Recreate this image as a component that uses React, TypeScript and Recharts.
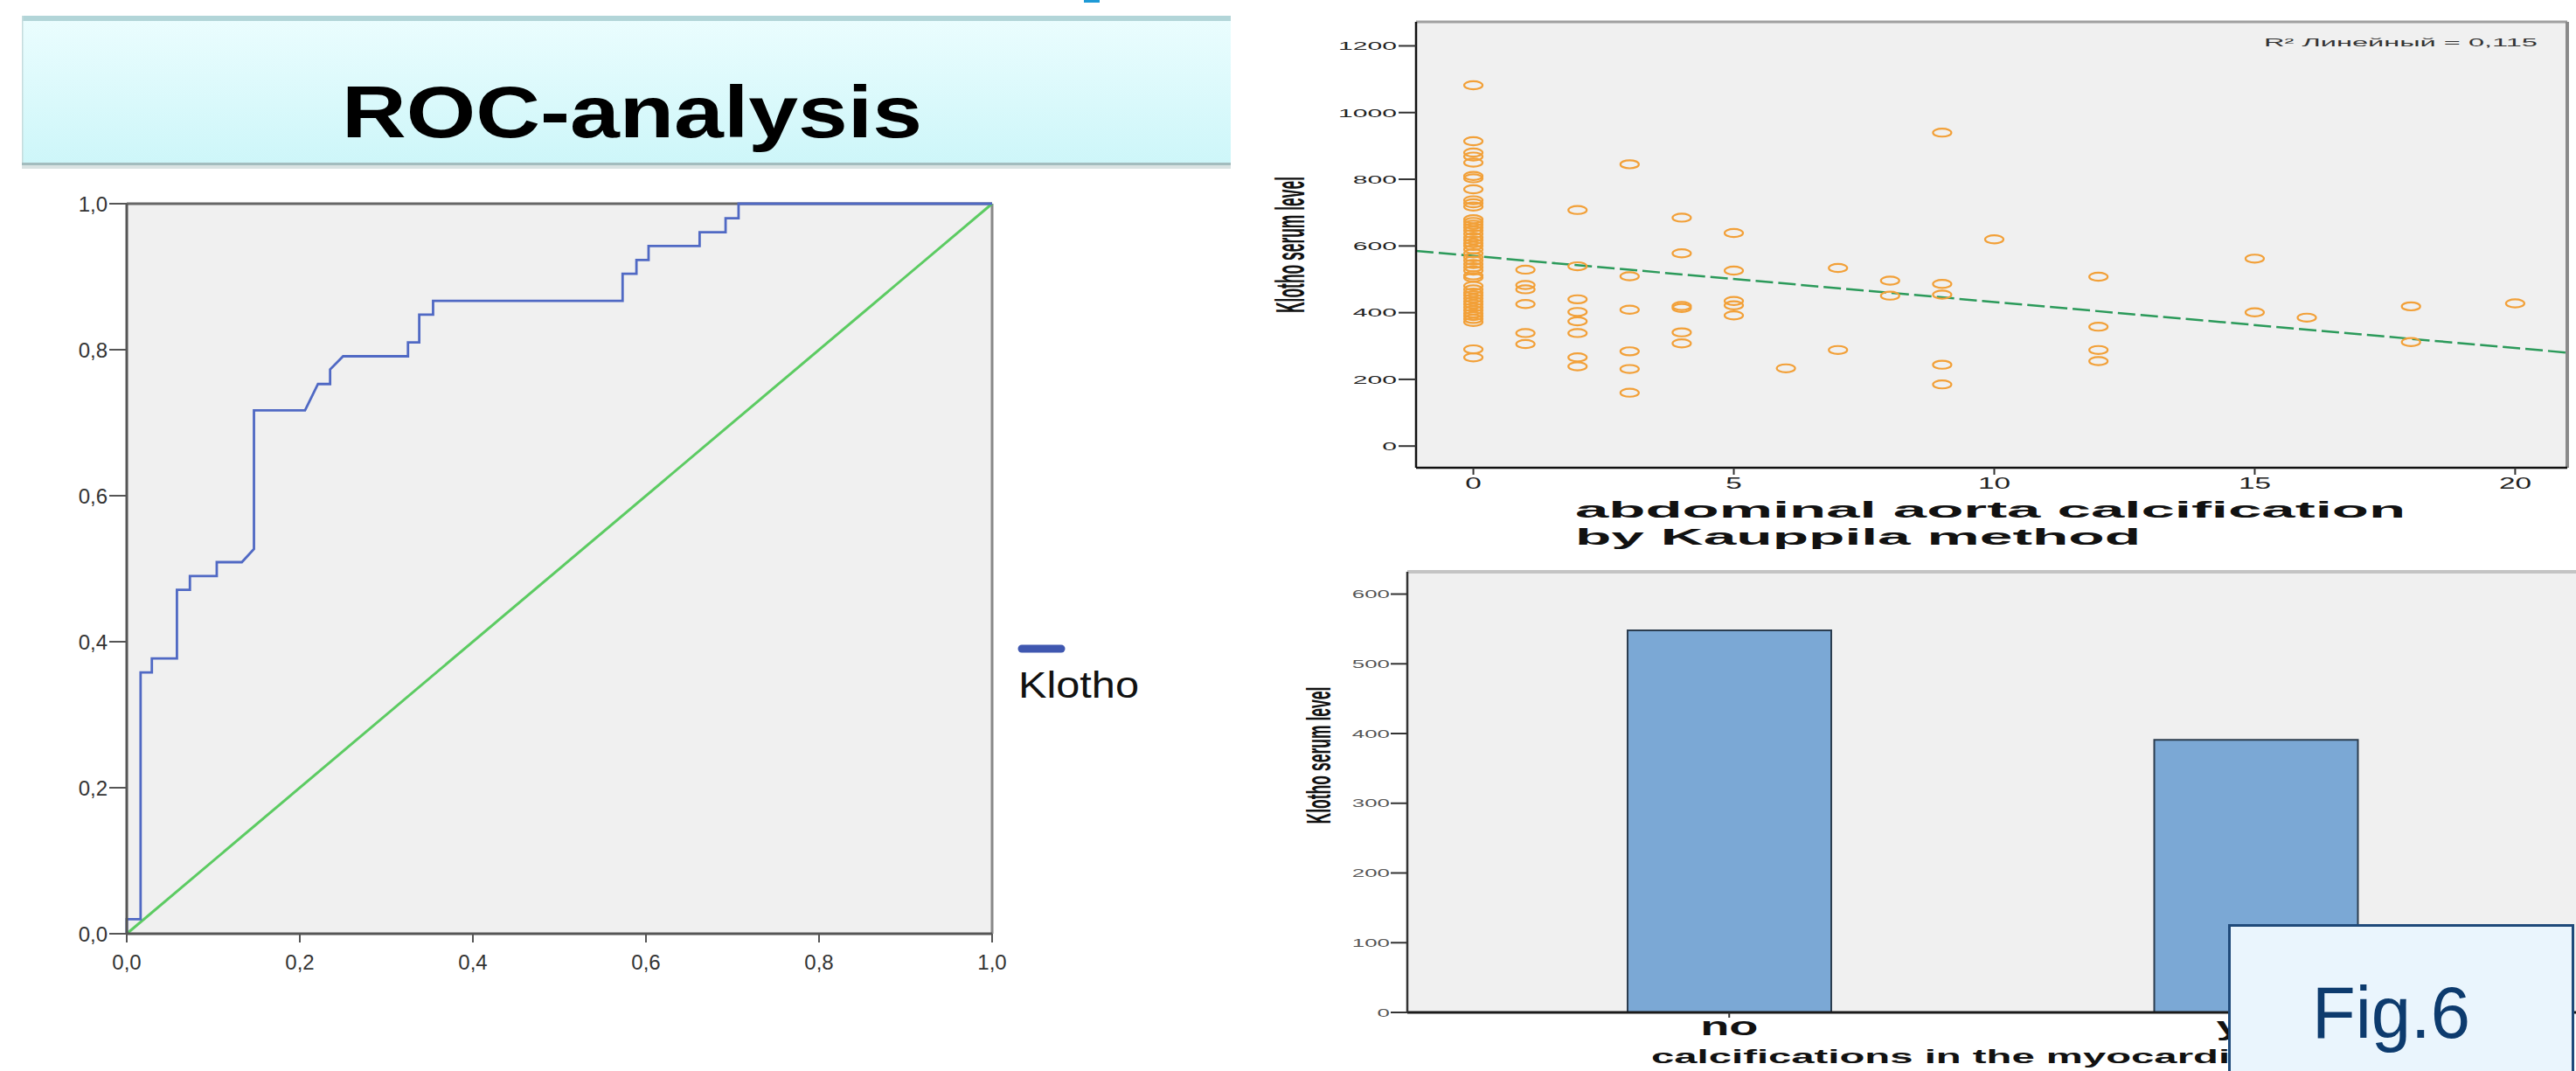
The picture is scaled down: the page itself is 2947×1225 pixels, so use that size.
import React from 'react';
import {
  LineChart,
  Line,
  XAxis,
  YAxis,
  CartesianGrid,
  ReferenceLine,
  ScatterChart,
  Scatter,
  BarChart,
  Bar,
  Label,
} from 'recharts';

const FONT = '"Liberation Sans", Arial, sans-serif';

// ROC curve for Klotho: 1 - specificity / sensitivity
const rocFpr = [
  0, 0, 0.016, 0.016, 0.029, 0.029, 0.058, 0.058, 0.073, 0.073, 0.104, 0.104, 0.133, 0.147, 0.147,
  0.206, 0.221, 0.235, 0.235, 0.25, 0.325, 0.325, 0.338, 0.338, 0.354, 0.354, 0.573, 0.573, 0.589,
  0.589, 0.603, 0.603, 0.662, 0.662, 0.692, 0.692, 0.707, 0.707, 1,
];
const rocTpr = [
  0, 0.02, 0.02, 0.358, 0.358, 0.377, 0.377, 0.471, 0.471, 0.49, 0.49, 0.509, 0.509, 0.527, 0.717,
  0.717, 0.753, 0.753, 0.773, 0.791, 0.791, 0.81, 0.81, 0.848, 0.848, 0.867, 0.867, 0.904, 0.904,
  0.923, 0.923, 0.942, 0.942, 0.961, 0.961, 0.98, 0.98, 1, 1,
];
const rocTicks = [0, 0.2, 0.4, 0.6, 0.8, 1];
const referenceFpr = [0, 1];
const referenceTpr = [0, 1];

// Klotho serum level vs. abdominal aorta calcification score
const aacScores = [0, 1, 2, 3, 4, 5, 6, 7, 8, 9, 10, 12, 15, 16, 18, 20];
const klothoByScore = [
  [
    1082, 914, 880, 868, 850, 810, 803, 770, 737, 728, 718, 680, 672, 664, 655, 646, 636, 626, 617,
    608, 600, 590, 578, 566, 556, 546, 536, 526, 512, 505, 480, 470, 460, 452, 443, 434, 425, 416,
    407, 398, 390, 381, 372, 290, 266,
  ],
  [529, 483, 470, 426, 339, 306],
  [708, 539, 440, 402, 374, 339, 266, 239],
  [845, 509, 409, 284, 231, 160],
  [685, 578, 420, 414, 341, 308],
  [639, 526, 435, 422, 392],
  [233],
  [534, 288],
  [496, 451],
  [940, 486, 454, 244, 185],
  [620],
  [508, 358, 288, 255],
  [562, 401],
  [385],
  [419, 312],
  [428],
];
const scatterXTicks = [0, 5, 10, 15, 20];
const scatterYTicks = [0, 200, 400, 600, 800, 1000, 1200];
const scatterXDomain = [-1.1, 21];
const scatterYDomain = [-65, 1272];
const fitIntercept = 570;
const fitSlope = -13.8;
const rSquaredText = 'R² Линейный = 0,115';

// mean Klotho by myocardial calcification
const calcCategories = ['no', 'yes'];
const meanKlotho = [548, 391];
const barYTicks = [0, 100, 200, 300, 400, 500, 600];
const barYMax = 632;

const rocData = rocFpr.map((fpr, i) => ({ fpr, tpr: rocTpr[i] }));
const referenceData = referenceFpr.map((fpr, i) => ({ fpr, tpr: referenceTpr[i] }));
const scatterPoints = aacScores.flatMap((aac, i) =>
  klothoByScore[i].map((klotho) => ({ aac, klotho }))
);
const fitSegment = scatterXDomain.map((x) => ({ x, y: fitIntercept + fitSlope * x }));
const barData = calcCategories.map((calc, i) => ({ calc, klotho: meanKlotho[i] }));

const commaFormat = (v: number) => v.toFixed(1).replace('.', ',');

// horizontally stretched tick text (the figure was squeezed vertically)
function StretchTick(props: any) {
  const { x, y, payload, fontSize, scaleX, anchor, dy, fill, weight } = props;
  return (
    <text
      transform={`translate(${x},${y}) scale(${scaleX},1)`}
      textAnchor={anchor}
      dy={dy}
      fontSize={fontSize}
      fill={fill}
      fontFamily={FONT}
      fontWeight={weight || 'normal'}
    >
      {payload.value}
    </text>
  );
}

// rotated axis title, thickened across its baseline like the squeezed original
function SqueezedYTitle({ x, y, fontSize, length, thicken }: any) {
  return (
    <text
      transform={`translate(${x},${y}) rotate(-90) scale(1,${thicken})`}
      textAnchor="middle"
      fontFamily={FONT}
      fontWeight="bold"
      fontSize={fontSize}
      fill="#111"
      textLength={length}
      lengthAdjust="spacingAndGlyphs"
    >
      Klotho serum level
    </text>
  );
}

const OpenEllipse = (props: any) => {
  const { cx, cy } = props;
  return <ellipse cx={cx} cy={cy} rx={10.5} ry={4.6} fill="none" stroke="#f2a038" strokeWidth={2.2} />;
};

function RocChart() {
  return (
    <div style={{ position: 'absolute', left: 0, top: 0 }}>
      <LineChart width={1420} height={1225} margin={{ top: 233, right: 285, bottom: 117, left: 0 }}>
        <CartesianGrid horizontal={false} vertical={false} fill="#f0f0f0" fillOpacity={1} />
        <XAxis
          dataKey="fpr"
          type="number"
          domain={[0, 1]}
          ticks={rocTicks}
          tickFormatter={commaFormat}
          height={40}
          tickSize={10}
          tickMargin={14}
          axisLine={{ stroke: '#555', strokeWidth: 3 }}
          tickLine={{ stroke: '#555', strokeWidth: 2 }}
          tick={{ fontSize: 24, fill: '#333', fontFamily: FONT }}
        />
        <YAxis
          dataKey="tpr"
          type="number"
          domain={[0, 1]}
          ticks={rocTicks}
          tickFormatter={commaFormat}
          width={145}
          tickSize={20}
          tickMargin={2}
          axisLine={{ stroke: '#555', strokeWidth: 3 }}
          tickLine={{ stroke: '#555', strokeWidth: 2 }}
          tick={{ fontSize: 24, fill: '#333', fontFamily: FONT }}
        />
        <ReferenceLine y={1} stroke="#666" strokeWidth={3} />
        <ReferenceLine x={1} stroke="#888" strokeWidth={3} />
        <Line
          data={referenceData}
          dataKey="tpr"
          type="linear"
          stroke="#5ccb62"
          strokeWidth={3}
          dot={false}
          isAnimationActive={false}
        />
        <Line
          data={rocData}
          dataKey="tpr"
          type="linear"
          stroke="#5069c4"
          strokeWidth={2.8}
          dot={false}
          isAnimationActive={false}
        />
      </LineChart>
    </div>
  );
}

function ScatterPanel() {
  return (
    <div style={{ position: 'absolute', left: 1420, top: 0 }}>
      <ScatterChart width={1527} height={640} margin={{ top: 25, right: 10, bottom: 0, left: 0 }}>
        <CartesianGrid horizontal={false} vertical={false} fill="#f0f0f0" fillOpacity={1} />
        <XAxis
          dataKey="aac"
          type="number"
          domain={scatterXDomain}
          ticks={scatterXTicks}
          allowDataOverflow
          height={105}
          tickSize={8}
          tickMargin={3}
          axisLine={{ stroke: '#111', strokeWidth: 2.5 }}
          tickLine={{ stroke: '#333', strokeWidth: 2 }}
          tick={(p: any) => (
            <StretchTick {...p} fontSize={18} scaleX={1.85} anchor="middle" dy="0.72em" fill="#222" />
          )}
        >
          <Label
            content={(lp: any) => {
              const vb = lp.viewBox;
              return (
                <g fontFamily={FONT} fontWeight="bold" fontSize={25} fill="#111">
                  <text x={vb.x + 182} y={vb.y + 57} textLength={950} lengthAdjust="spacingAndGlyphs">
                    abdominal aorta calcification
                  </text>
                  <text x={vb.x + 182} y={vb.y + 88} textLength={647} lengthAdjust="spacingAndGlyphs">
                    by Kauppila method
                  </text>
                </g>
              );
            }}
          />
        </XAxis>
        <YAxis
          dataKey="klotho"
          type="number"
          domain={scatterYDomain}
          ticks={scatterYTicks}
          allowDataOverflow
          width={200}
          tickSize={20}
          tickMargin={2}
          axisLine={{ stroke: '#111', strokeWidth: 2.5 }}
          tickLine={{ stroke: '#333', strokeWidth: 2 }}
          tick={(p: any) => (
            <StretchTick {...p} fontSize={13.5} scaleX={2.23} anchor="end" dy="0.36em" fill="#222" />
          )}
        >
          <Label
            content={(lp: any) => {
              const vb = lp.viewBox;
              return (
                <SqueezedYTitle
                  x={vb.x + 72}
                  y={vb.y + vb.height / 2}
                  fontSize={17}
                  length={156}
                  thicken={2.7}
                />
              );
            }}
          />
        </YAxis>
        <ReferenceLine y={scatterYDomain[1]} stroke="#a0a0a0" strokeWidth={3} />
        <ReferenceLine x={scatterXDomain[1]} stroke="#8a8a8a" strokeWidth={4} />
        <Scatter data={scatterPoints} shape={OpenEllipse} isAnimationActive={false} />
        <ReferenceLine
          segment={fitSegment}
          stroke="#2b9a5a"
          strokeWidth={2.5}
          strokeDasharray="20 6"
          ifOverflow="visible"
        />
      </ScatterChart>
    </div>
  );
}

function BarPanel() {
  return (
    <div style={{ position: 'absolute', left: 1420, top: 640 }}>
      <BarChart width={1527} height={585} data={barData} margin={{ top: 14, right: 0, bottom: 0, left: 0 }}>
        <CartesianGrid horizontal={false} vertical={false} fill="#f0f0f0" fillOpacity={1} />
        <XAxis
          dataKey="calc"
          type="category"
          padding={{ left: 67, right: 65 }}
          height={67}
          tickSize={6}
          tickMargin={2}
          axisLine={{ stroke: '#1a1a1a', strokeWidth: 3 }}
          tickLine={{ stroke: '#333', strokeWidth: 2 }}
          tick={(p: any) => (
            <StretchTick {...p} fontSize={29} scaleX={1.87} anchor="middle" dy={18} fill="#111" weight="bold" />
          )}
        >
          <Label
            content={(lp: any) => {
              const vb = lp.viewBox;
              return (
                <text
                  x={vb.x + 279}
                  y={vb.y + 58}
                  fontFamily={FONT}
                  fontWeight="bold"
                  fontSize={22}
                  fill="#111"
                  textLength={733}
                  lengthAdjust="spacingAndGlyphs"
                >
                  calcifications in the myocardium
                </text>
              );
            }}
          />
        </XAxis>
        <YAxis
          type="number"
          domain={[0, barYMax]}
          ticks={barYTicks}
          width={190}
          tickSize={19}
          tickMargin={1}
          axisLine={{ stroke: '#333', strokeWidth: 2.5 }}
          tickLine={{ stroke: '#333', strokeWidth: 2 }}
          tick={(p: any) => (
            <StretchTick {...p} fontSize={12.5} scaleX={2.07} anchor="end" dy="0.36em" fill="#555" />
          )}
        >
          <Label
            content={(lp: any) => {
              const vb = lp.viewBox;
              return (
                <SqueezedYTitle x={vb.x + 102} y={vb.y + 210} fontSize={17} length={157} thicken={2.3} />
              );
            }}
          />
        </YAxis>
        <ReferenceLine y={barYMax} stroke="#c4c4c4" strokeWidth={4} />
        <Bar
          dataKey="klotho"
          barSize={233}
          fill="#7ba8d5"
          stroke="#2c3d4f"
          strokeWidth={2}
          isAnimationActive={false}
        />
      </BarChart>
    </div>
  );
}

export default function App() {
  return (
    <div
      style={{
        position: 'absolute',
        left: 0,
        top: 0,
        width: 2947,
        height: 1225,
        background: '#fff',
        overflow: 'hidden',
        fontFamily: FONT,
      }}
    >
      <RocChart />
      <ScatterPanel />
      <BarPanel />

      {/* title banner, ROC legend and scatter fit note */}
      <svg
        width={2947}
        height={1225}
        style={{ position: 'absolute', left: 0, top: 0, pointerEvents: 'none' }}
      >
        <defs>
          <linearGradient id="banner" x1="0" y1="0" x2="0" y2="1">
            <stop offset="0%" stopColor="#ebfdfe" />
            <stop offset="100%" stopColor="#cdf6f9" />
          </linearGradient>
        </defs>
        <rect x={1240} y={0} width={18} height={3} fill="#1e9ad6" />
        <rect x={25} y={18} width={1383} height={171} fill="url(#banner)" />
        <rect x={25} y={18} width={1383} height={6} fill="#b2d5d8" />
        <rect x={25} y={18} width={1.5} height={171} fill="#c5dcdd" />
        <rect x={25} y={186} width={1383} height={3} fill="#a3bcbe" />
        <rect x={25} y={189} width={1383} height={4} fill="#d9e2e2" />
        <text
          x={391}
          y={157}
          fontFamily={FONT}
          fontWeight="bold"
          fontSize={83}
          fill="#000"
          textLength={664}
          lengthAdjust="spacingAndGlyphs"
        >
          ROC-analysis
        </text>

        <line x1={1169} y1={742} x2={1214} y2={742} stroke="#3f57b0" strokeWidth={9} strokeLinecap="round" />
        <text
          x={1165}
          y={798}
          fontFamily={FONT}
          fontSize={42}
          fill="#111"
          textLength={138}
          lengthAdjust="spacingAndGlyphs"
        >
          Klotho
        </text>

        <text
          x={2590}
          y={53}
          fontFamily={FONT}
          fontSize={12}
          fill="#333"
          textLength={313}
          lengthAdjust="spacingAndGlyphs"
        >
          {rSquaredText}
        </text>
      </svg>

      {/* Fig.6 caption box, overlapping the bar chart */}
      <div
        style={{
          position: 'absolute',
          left: 2549,
          top: 1057,
          width: 390,
          height: 200,
          background: '#eaf5fd',
          border: '3px solid #1f4a7a',
        }}
      >
        <svg width={390} height={200} style={{ position: 'absolute', left: 0, top: 0 }}>
          <text
            x={93}
            y={127}
            fontFamily={FONT}
            fontSize={84}
            fill="#0d3b6e"
            textLength={181}
            lengthAdjust="spacingAndGlyphs"
          >
            Fig.6
          </text>
        </svg>
      </div>
    </div>
  );
}
